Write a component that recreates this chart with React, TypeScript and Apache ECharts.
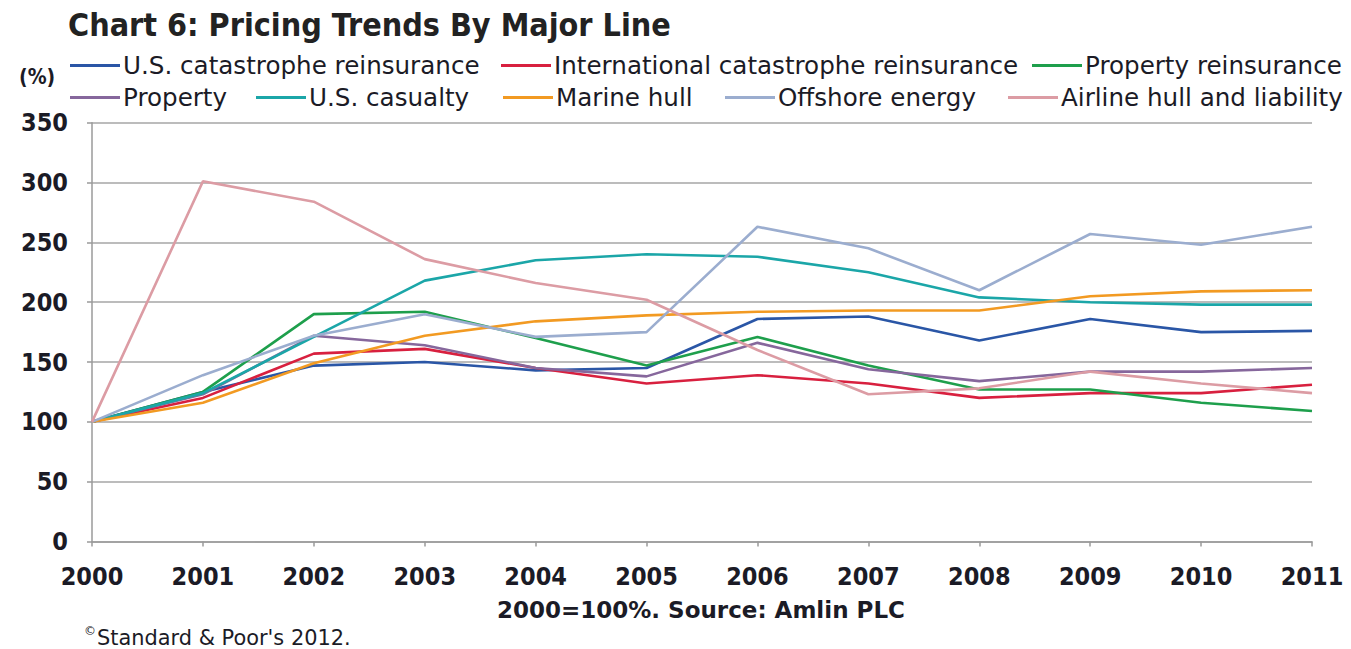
import React, { useEffect, useRef } from "react";
import * as echarts from "echarts";

const years = ["2000", "2001", "2002", "2003", "2004", "2005", "2006", "2007", "2008", "2009", "2010", "2011"];
const yTicks = { min: 0, max: 350, interval: 50 };

const usCat = [100, 125, 147, 150, 143, 145, 186, 188, 168, 186, 175, 176];
const intlCat = [100, 120, 157, 161, 145, 132, 139, 132, 120, 124, 124, 131];
const propertyReins = [100, 125, 190, 192, 170, 147, 171, 147, 127, 127, 116, 109];
const property = [100, 123, 172, 164, 145, 138, 166, 144, 134, 142, 142, 145];
const usCasualty = [100, 124, 171, 218, 235, 240, 238, 225, 204, 200, 198, 198];
const marineHull = [100, 116, 149, 172, 184, 189, 192, 193, 193, 205, 209, 210];
const offshoreEnergy = [100, 139, 172, 190, 171, 175, 263, 245, 210, 257, 248, 263];
const airline = [100, 301, 284, 236, 216, 202, 160, 123, 128, 142, 132, 124];

const seriesDefs = [
  { name: "U.S. catastrophe reinsurance", data: usCat, color: "#2a56a6" },
  { name: "International catastrophe reinsurance", data: intlCat, color: "#d8203f" },
  { name: "Property reinsurance", data: propertyReins, color: "#1e9f4c" },
  { name: "Property", data: property, color: "#86679c" },
  { name: "U.S. casualty", data: usCasualty, color: "#1ba6a8" },
  { name: "Marine hull", data: marineHull, color: "#f29a22" },
  { name: "Offshore energy", data: offshoreEnergy, color: "#9badcf" },
  { name: "Airline hull and liability", data: airline, color: "#dc9ca4" },
];

// legend entries placed individually in two rows
const legendSpots = [
  { left: 70, top: 53 },
  { left: 501, top: 53 },
  { left: 1032, top: 53 },
  { left: 70, top: 85 },
  { left: 256, top: 85 },
  { left: 503, top: 85 },
  { left: 725, top: 85 },
  { left: 1008, top: 85 },
];

const CONDENSED = "'DejaVu Sans Condensed', 'Liberation Sans', sans-serif";
const WIDE = "'DejaVu Sans', 'Liberation Sans', sans-serif";
const TEXT = "#1b1b26";

export default function App() {
  const ref = useRef<HTMLDivElement>(null);

  useEffect(() => {
    document.body.style.margin = "0";
    if (!ref.current) return;
    const chart = echarts.init(ref.current, undefined, { renderer: "svg" });

    chart.setOption({
      animation: false,
      backgroundColor: "#ffffff",
      title: {
        text: "Chart 6: Pricing Trends By Major Line",
        left: 63,
        top: 4,
        textStyle: { fontFamily: CONDENSED, fontSize: 32, fontWeight: 900, color: "#222222" },
      },
      legend: seriesDefs.map((s, i) => ({
        data: [s.name],
        left: legendSpots[i].left,
        top: legendSpots[i].top,
        icon: "rect",
        itemWidth: 50,
        itemHeight: 3,
        padding: 0,
        selectedMode: false,
        textStyle: { fontFamily: WIDE, fontSize: 24.6, fontWeight: 500, color: TEXT, padding: [0, 0, 0, -2] },
      })),
      grid: { left: 92, right: 39, top: 122.7, bottom: 107.5, containLabel: false },
      xAxis: {
        type: "category",
        data: years,
        boundaryGap: false,
        axisLine: { lineStyle: { color: "#9a9a9a", width: 1.5 } },
        axisTick: { show: true, length: 5, lineStyle: { color: "#9a9a9a", width: 1.5 } },
        axisLabel: { margin: 22, fontFamily: CONDENSED, fontSize: 25, fontWeight: 600, color: TEXT },
        splitLine: { show: false },
      },
      yAxis: {
        type: "value",
        min: yTicks.min,
        max: yTicks.max,
        interval: yTicks.interval,
        axisLine: { show: true, lineStyle: { color: "#9a9a9a", width: 1.5 } },
        axisTick: { show: true, length: 5, lineStyle: { color: "#9a9a9a", width: 1.5 } },
        axisLabel: { margin: 24, fontFamily: CONDENSED, fontSize: 25, fontWeight: 600, color: TEXT },
        splitLine: { show: true, lineStyle: { color: "#a6a6a6", width: 1.5 } },
      },
      graphic: [
        {
          type: "text",
          left: 19,
          top: 66,
          style: { text: "(%)", font: `600 21px ${CONDENSED}`, fill: TEXT },
        },
        {
          type: "text",
          left: 497,
          top: 598,
          style: { text: "2000=100%. Source: Amlin PLC", font: `600 23px ${WIDE}`, fill: TEXT },
        },
        {
          type: "text",
          left: 84,
          top: 625,
          style: { text: "©", font: `500 12px ${WIDE}`, fill: TEXT },
        },
        {
          type: "text",
          left: 97,
          top: 627,
          style: { text: "Standard & Poor's 2012.", font: `500 20.9px ${WIDE}`, fill: TEXT },
        },
      ],
      series: seriesDefs.map((s) => ({
        name: s.name,
        type: "line",
        data: s.data,
        symbol: "none",
        lineStyle: { color: s.color, width: 2.6 },
        itemStyle: { color: s.color },
      })),
    });

    return () => chart.dispose();
  }, []);

  return <div ref={ref} style={{ width: 1351, height: 649 }} />;
}
